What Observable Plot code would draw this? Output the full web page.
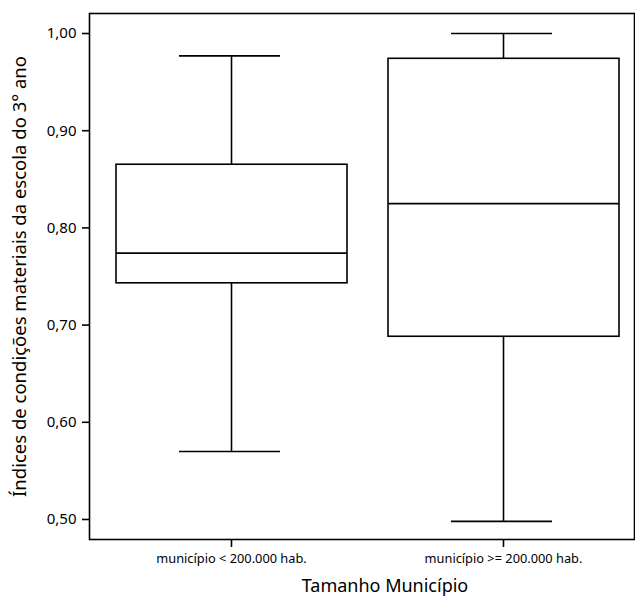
<!DOCTYPE html>
<html><head><meta charset="utf-8">
<script src="https://cdn.jsdelivr.net/npm/d3@7"></script>
<script src="https://cdn.jsdelivr.net/npm/@observablehq/plot@0.6"></script>
<style>body{margin:0;background:#fff;} svg{font-family:"Noto Sans",sans-serif;}</style>
</head><body><div id="chart"></div>
<script>
const categories = ["município < 200.000 hab.", "município >= 200.000 hab."];
const whiskerLow = [0.570, 0.498];
const q1 = [0.743, 0.688];
const median = [0.774, 0.825];
const q3 = [0.865, 0.974];
const whiskerHigh = [0.977, 1.000];
const yTicks = [0.5, 0.6, 0.7, 0.8, 0.9, 1.0];
const yLabel = "Índices de condições materiais da escola do 3° ano";
const xLabel = "Tamanho Município";

const data = categories.map((c, i) => ({cat: c, lo: whiskerLow[i], q1: q1[i], med: median[i], q3: q3[i], hi: whiskerHigh[i]}));

const chart = Plot.plot({
  width: 635, height: 600,
  marginLeft: 89, marginRight: 1, marginTop: 13, marginBottom: 61,
  style: {fontFamily: "'Noto Sans', sans-serif", fontSize: "13px", color: "#000"},
  x: {domain: categories, range: [94, 639], padding: 0, label: null},
  y: {domain: [0.4794, 1.0206], label: null},
  marks: [
    Plot.ruleX(data, {x: "cat", y1: "lo", y2: "q1", stroke: "#000", strokeWidth: 1.6}),
    Plot.ruleX(data, {x: "cat", y1: "q3", y2: "hi", stroke: "#000", strokeWidth: 1.6}),
    Plot.tickY(data, {x: "cat", y: "lo", insetLeft: 84, insetRight: 87, stroke: "#000", strokeWidth: 1.6}),
    Plot.tickY(data, {x: "cat", y: "hi", insetLeft: 84, insetRight: 87, stroke: "#000", strokeWidth: 1.6}),
    Plot.barY(data, {x: "cat", y1: "q1", y2: "q3", insetLeft: 21, insetRight: 20, fill: "#fff", stroke: "#000", strokeWidth: 1.6}),
    Plot.tickY(data, {x: "cat", y: "med", insetLeft: 21, insetRight: 20, stroke: "#000", strokeWidth: 1.6}),
    Plot.frame({stroke: "#000", strokeWidth: 1.6}),
    Plot.axisY({ticks: yTicks, tickFormat: d => d.toFixed(2).replace(".", ","), tickSize: 7, tickPadding: 6, strokeWidth: 1.6, fontSize: 15, label: null}),
    Plot.axisX({tickSize: 8, tickPadding: 6, strokeWidth: 1.6, fontSize: 12.8, label: null}),
    Plot.text([yLabel], {frameAnchor: "left", rotate: -90, dx: -69, fontSize: 18.5, textAnchor: "middle"}),
    Plot.text([xLabel], {frameAnchor: "bottom", dy: 52, dx: 23, fontSize: 18, textAnchor: "middle"})
  ]
});
document.getElementById("chart").appendChild(chart);
</script></body></html>
